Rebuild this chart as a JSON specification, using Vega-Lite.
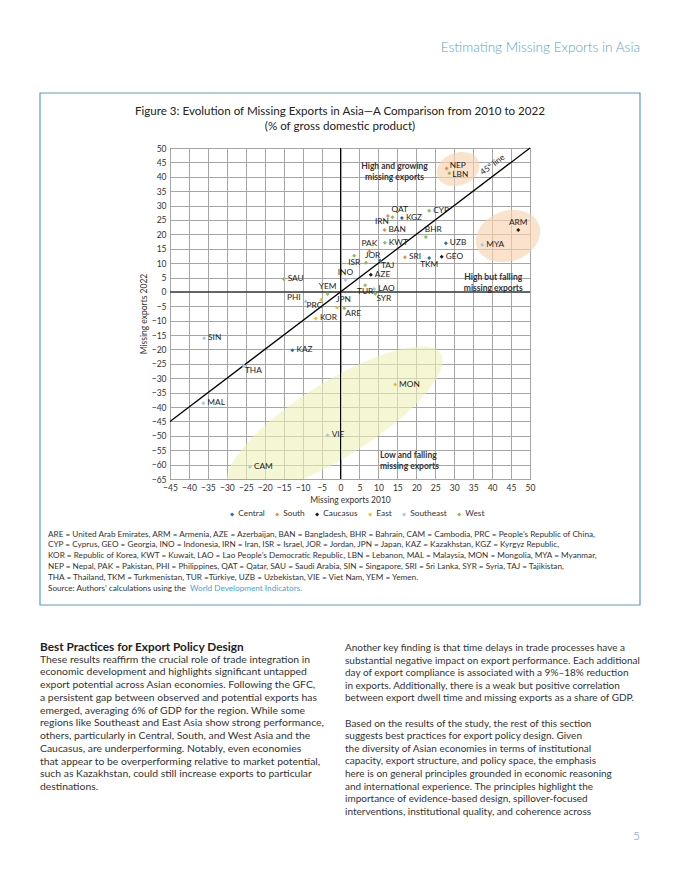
{
  "$schema": "https://vega.github.io/schema/vega-lite/v6.json",
  "width": 360,
  "height": 331,
  "autosize": {"type": "none"},
  "padding": {"left": 170, "top": 148, "right": 150, "bottom": 401},
  "background": "white",
  "config": {
    "font": "Lato",
    "view": {"stroke": "#000", "strokeWidth": 1},
    "axis": {
      "labelFont": "Lato",
      "labelFontSize": 8.5,
      "labelColor": "#333",
      "titleFont": "Lato",
      "titleFontSize": 8.5,
      "titleFontWeight": "normal",
      "titleColor": "#333",
      "gridColor": "#a6a6a6",
      "gridWidth": 1,
      "gridOpacity": 1,
      "ticks": false,
      "domain": false,
      "labelFlush": false,
      "labelOverlap": false
    }
  },
  "datasets": {
    "pts": [
      {"code": "SAU", "group": "West", "x": -15, "y": 4.5, "pos": "r"},
      {"code": "ISR", "group": "West", "x": 3.6, "y": 12.6, "pos": "b"},
      {"code": "INO", "group": "Southeast", "x": 1.3, "y": 4.1, "pos": "t"},
      {"code": "YEM", "group": "West", "x": -3.4, "y": -0.7, "pos": "t"},
      {"code": "PHI", "group": "Southeast", "x": -9.2, "y": -3.3, "pos": "l"},
      {"code": "PRC", "group": "East", "x": -5.1, "y": -2.7, "pos": "bl"},
      {"code": "KOR", "group": "East", "x": -6.5, "y": -9.2, "pos": "r"},
      {"code": "JPN", "group": "East", "x": -0.9, "y": -5.4, "pos": "tr"},
      {"code": "ARE", "group": "West", "x": 1.0, "y": -5.7, "pos": "br"},
      {"code": "TUR", "group": "West", "x": 6.5, "y": 2.3, "pos": "b"},
      {"code": "LAO", "group": "Southeast", "x": 8.9, "y": 1.0, "pos": "r"},
      {"code": "SYR", "group": "West", "x": 9.2, "y": -0.6, "pos": "br"},
      {"code": "AZE", "group": "Caucasus", "x": 8.0, "y": 6.0, "pos": "r"},
      {"code": "JOR", "group": "West", "x": 6.7, "y": 10.1, "pos": "tr"},
      {"code": "TAJ", "group": "Central", "x": 10.4, "y": 10.9, "pos": "br"},
      {"code": "PAK", "group": "South", "x": 7.6, "y": 14.1, "pos": "t"},
      {"code": "KWT", "group": "West", "x": 11.7, "y": 17.1, "pos": "r"},
      {"code": "BAN", "group": "South", "x": 11.6, "y": 21.5, "pos": "r"},
      {"code": "IRN", "group": "South", "x": 12.5, "y": 26.4, "pos": "bl"},
      {"code": "QAT", "group": "West", "x": 13.7, "y": 25.9, "pos": "tr"},
      {"code": "KGZ", "group": "Central", "x": 16.2, "y": 25.7, "pos": "r"},
      {"code": "CYP", "group": "West", "x": 23.4, "y": 28.2, "pos": "r"},
      {"code": "BHR", "group": "West", "x": 22.5, "y": 19.1, "pos": "tr"},
      {"code": "UZB", "group": "Central", "x": 27.8, "y": 16.9, "pos": "r"},
      {"code": "GEO", "group": "Caucasus", "x": 26.7, "y": 12.2, "pos": "r"},
      {"code": "TKM", "group": "Central", "x": 23.4, "y": 11.8, "pos": "b"},
      {"code": "SRI", "group": "South", "x": 17.0, "y": 12.0, "pos": "r"},
      {"code": "MYA", "group": "Southeast", "x": 37.4, "y": 16.4, "pos": "r"},
      {"code": "ARM", "group": "Caucasus", "x": 46.9, "y": 21.5, "pos": "t"},
      {"code": "NEP", "group": "South", "x": 28.0, "y": 42.9, "pos": "ru"},
      {"code": "LBN", "group": "West", "x": 28.7, "y": 41.2, "pos": "rd"},
      {"code": "SIN", "group": "Southeast", "x": -36.0, "y": -16.1, "pos": "r"},
      {"code": "KAZ", "group": "Central", "x": -12.7, "y": -20.3, "pos": "r"},
      {"code": "THA", "group": "Southeast", "x": -25.5, "y": -25.7, "pos": "br"},
      {"code": "MAL", "group": "Southeast", "x": -36.2, "y": -38.7, "pos": "r"},
      {"code": "MON", "group": "East", "x": 14.4, "y": -32.2, "pos": "r"},
      {"code": "VIE", "group": "Southeast", "x": -3.4, "y": -49.8, "pos": "r"},
      {"code": "CAM", "group": "Southeast", "x": -23.9, "y": -60.8, "pos": "r"}
    ],
    "zones": [
      {"zone": "growing", "x": 31.0, "y": 42.7},
      {"zone": "falling", "x": 44.2, "y": 19.4},
      {"zone": "low", "x": -1.5, "y": -44.5}
    ]
  },
  "layer": [
    {
      "data": {"name": "zones"},
      "transform": [{"filter": "datum.zone === 'low'"}],
      "mark": {"type": "point", "shape": "M -1 0 A 1 0.3 0 1 1 1 0 A 1 0.3 0 1 1 -1 0 Z", "size": 62500, "angle": 328, "filled": true, "color": "#eef2b8", "opacity": 0.6, "clip": true},
      "encoding": {
        "x": {"field": "x", "type": "quantitative"},
        "y": {"field": "y", "type": "quantitative"}
      }
    },
    {
      "data": {"name": "zones"},
      "transform": [{"filter": "datum.zone === 'growing'"}],
      "mark": {"type": "point", "shape": "M -1 0 A 1 0.74 0 1 1 1 0 A 1 0.74 0 1 1 -1 0 Z", "size": 1936, "angle": 340, "filled": true, "color": "#f8d2b0", "opacity": 0.65},
      "encoding": {
        "x": {"field": "x", "type": "quantitative"},
        "y": {"field": "y", "type": "quantitative"}
      }
    },
    {
      "data": {"name": "zones"},
      "transform": [{"filter": "datum.zone === 'falling'"}],
      "mark": {"type": "point", "shape": "M -1 0 A 1 0.76 0 1 1 1 0 A 1 0.76 0 1 1 -1 0 Z", "size": 4356, "angle": 340, "filled": true, "color": "#f8d2b0", "opacity": 0.65},
      "encoding": {
        "x": {"field": "x", "type": "quantitative"},
        "y": {"field": "y", "type": "quantitative"}
      }
    },
    {
      "data": {"values": [{"x": 0, "y": -65, "y2": 50}]},
      "mark": {"type": "rule", "color": "#000", "strokeWidth": 1},
      "encoding": {
        "x": {"field": "x", "type": "quantitative"},
        "y": {"field": "y", "type": "quantitative"},
        "y2": {"field": "y2"}
      }
    },
    {
      "data": {"values": [{"x": -45, "x2": 50, "y": 0}]},
      "mark": {"type": "rule", "color": "#000", "strokeWidth": 1},
      "encoding": {
        "x": {"field": "x", "type": "quantitative"},
        "x2": {"field": "x2"},
        "y": {"field": "y", "type": "quantitative"}
      }
    },
    {
      "data": {"values": [{"x": -45, "y": -45, "x2": 50, "y2": 50}]},
      "mark": {"type": "rule", "color": "#000", "strokeWidth": 1.3},
      "encoding": {
        "x": {"field": "x", "type": "quantitative"},
        "y": {"field": "y", "type": "quantitative"},
        "x2": {"field": "x2"},
        "y2": {"field": "y2"}
      }
    },
    {
      "data": {"name": "pts"},
      "mark": {"type": "point", "shape": "diamond", "filled": true, "size": 16, "opacity": 1},
      "encoding": {
        "x": {
          "field": "x", "type": "quantitative",
          "scale": {"domain": [-45, 50], "nice": false, "zero": false},
          "axis": {"title": "Missing exports 2010", "values": [-45,-40,-35,-30,-25,-20,-15,-10,-5,0,5,10,15,20,25,30,35,40,45,50], "tickCount": 40, "grid": true, "gridColor": "#a6a6a6", "gridWidth": 1, "labelOverlap": false, "labelBound": false, "labelPadding": 4, "titlePadding": 4}
        },
        "y": {
          "field": "y", "type": "quantitative",
          "scale": {"domain": [-65, 50], "nice": false, "zero": false},
          "axis": {"title": "Missing exports 2022", "values": [-65,-60,-55,-50,-45,-40,-35,-30,-25,-20,-15,-10,-5,0,5,10,15,20,25,30,35,40,45,50], "tickCount": 40, "grid": true, "gridColor": "#a6a6a6", "gridWidth": 1, "labelOverlap": false, "labelBound": false, "labelPadding": 4, "titlePadding": 3}
        },
        "color": {
          "field": "group", "type": "nominal",
          "scale": {"domain": ["Central", "South", "Caucasus", "East", "Southeast", "West"], "range": ["#2b6cb0", "#ef8a4f", "#1a1a1a", "#f2bf2a", "#9fcbe6", "#8cc152"]},
          "legend": {"orient": "none", "legendX": 58, "legendY": 362, "direction": "horizontal", "columns": 6, "title": null, "symbolType": "diamond", "symbolSize": 16, "labelFont": "Lato", "labelFontSize": 8.3, "labelColor": "#333", "labelOffset": 2, "columnPadding": 8, "padding": 0}
        }
      }
    },
    {
      "data": {"name": "pts"},
      "transform": [{"filter": "datum.pos === 'r'"}],
      "mark": {"type": "text", "align": "left", "baseline": "middle", "dx": 4, "fontSize": 8.3, "color": "#222"},
      "encoding": {"x": {"field": "x", "type": "quantitative"}, "y": {"field": "y", "type": "quantitative"}, "text": {"field": "code"}}
    },
    {
      "data": {"name": "pts"},
      "transform": [{"filter": "datum.pos === 'ru'"}],
      "mark": {"type": "text", "align": "left", "baseline": "middle", "dx": 3, "dy": -2.5, "fontSize": 8.3, "color": "#222"},
      "encoding": {"x": {"field": "x", "type": "quantitative"}, "y": {"field": "y", "type": "quantitative"}, "text": {"field": "code"}}
    },
    {
      "data": {"name": "pts"},
      "transform": [{"filter": "datum.pos === 'rd'"}],
      "mark": {"type": "text", "align": "left", "baseline": "middle", "dx": 3, "dy": 1.5, "fontSize": 8.3, "color": "#222"},
      "encoding": {"x": {"field": "x", "type": "quantitative"}, "y": {"field": "y", "type": "quantitative"}, "text": {"field": "code"}}
    },
    {
      "data": {"name": "pts"},
      "transform": [{"filter": "datum.pos === 'l'"}],
      "mark": {"type": "text", "align": "right", "baseline": "middle", "dx": -5, "dy": -3, "fontSize": 8.3, "color": "#222"},
      "encoding": {"x": {"field": "x", "type": "quantitative"}, "y": {"field": "y", "type": "quantitative"}, "text": {"field": "code"}}
    },
    {
      "data": {"name": "pts"},
      "transform": [{"filter": "datum.pos === 't'"}],
      "mark": {"type": "text", "align": "center", "baseline": "middle", "dy": -7, "fontSize": 8.3, "color": "#222"},
      "encoding": {"x": {"field": "x", "type": "quantitative"}, "y": {"field": "y", "type": "quantitative"}, "text": {"field": "code"}}
    },
    {
      "data": {"name": "pts"},
      "transform": [{"filter": "datum.pos === 'b'"}],
      "mark": {"type": "text", "align": "center", "baseline": "middle", "dy": 7, "fontSize": 8.3, "color": "#222"},
      "encoding": {"x": {"field": "x", "type": "quantitative"}, "y": {"field": "y", "type": "quantitative"}, "text": {"field": "code"}}
    },
    {
      "data": {"name": "pts"},
      "transform": [{"filter": "datum.pos === 'tr'"}],
      "mark": {"type": "text", "align": "left", "baseline": "middle", "dx": -1, "dy": -7, "fontSize": 8.3, "color": "#222"},
      "encoding": {"x": {"field": "x", "type": "quantitative"}, "y": {"field": "y", "type": "quantitative"}, "text": {"field": "code"}}
    },
    {
      "data": {"name": "pts"},
      "transform": [{"filter": "datum.pos === 'br'"}],
      "mark": {"type": "text", "align": "left", "baseline": "middle", "dx": 1, "dy": 5.5, "fontSize": 8.3, "color": "#222"},
      "encoding": {"x": {"field": "x", "type": "quantitative"}, "y": {"field": "y", "type": "quantitative"}, "text": {"field": "code"}}
    },
    {
      "data": {"name": "pts"},
      "transform": [{"filter": "datum.pos === 'bl'"}],
      "mark": {"type": "text", "align": "right", "baseline": "middle", "dx": 1, "dy": 6, "fontSize": 8.3, "color": "#222"},
      "encoding": {"x": {"field": "x", "type": "quantitative"}, "y": {"field": "y", "type": "quantitative"}, "text": {"field": "code"}}
    },
    {
      "data": {"values": [
        {"label": "High and growing\nmissing exports", "x": 14.25, "y": 43.9},
        {"label": "High but falling\nmissing exports", "x": 40.3, "y": 5.35}
      ]},
      "mark": {"type": "text", "align": "center", "baseline": "middle", "lineBreak": "\n", "lineHeight": 11, "fontSize": 8.5, "fontWeight": "bold", "color": "#333"},
      "encoding": {"x": {"field": "x", "type": "quantitative"}, "y": {"field": "y", "type": "quantitative"}, "text": {"field": "label"}}
    },
    {
      "data": {"values": [
        {"label": "Low and falling\nmissing exports", "x": 10.4, "y": -56.6}
      ]},
      "mark": {"type": "text", "align": "left", "baseline": "middle", "lineBreak": "\n", "lineHeight": 11, "fontSize": 8.5, "fontWeight": "bold", "color": "#333"},
      "encoding": {"x": {"field": "x", "type": "quantitative"}, "y": {"field": "y", "type": "quantitative"}, "text": {"field": "label"}}
    },
    {
      "data": {"values": [{"label": "45\u00b0 line", "x": 40.2, "y": 44.0}]},
      "mark": {"type": "text", "align": "center", "baseline": "middle", "angle": 323, "fontSize": 8.3, "color": "#222"},
      "encoding": {"x": {"field": "x", "type": "quantitative"}, "y": {"field": "y", "type": "quantitative"}, "text": {"field": "label"}}
    },
    {
      "data": {"values": [{}]},
      "mark": {"type": "rect", "fill": null, "fillOpacity": 0, "stroke": "#5c9fb8", "strokeWidth": 1.2},
      "encoding": {"x": {"value": -130}, "x2": {"value": 470}, "y": {"value": -55}, "y2": {"value": 457}}
    },
    {
      "data": {"values": [{}]},
      "mark": {"type": "text", "align": "center", "baseline": "middle", "fontSize": 11.6, "color": "#222"},
      "encoding": {"x": {"value": 170}, "y": {"value": -36}, "text": {"value": "Figure 3: Evolution of Missing Exports in Asia\u2014A Comparison from 2010 to 2022"}}
    },
    {
      "data": {"values": [{}]},
      "mark": {"type": "text", "align": "center", "baseline": "middle", "fontSize": 11.6, "color": "#222"},
      "encoding": {"x": {"value": 170}, "y": {"value": -21}, "text": {"value": "(% of gross domestic product)"}}
    },
    {
      "data": {"values": [{}]},
      "mark": {"type": "text", "align": "right", "baseline": "middle", "fontSize": 13.6, "fontWeight": 300, "color": "#5aa0d0"},
      "encoding": {"x": {"value": 470}, "y": {"value": -100}, "text": {"value": "Estimating Missing Exports in Asia"}}
    },
    {
      "data": {"values": [{}]},
      "mark": {"type": "text", "align": "left", "baseline": "alphabetic", "fontSize": 8.2, "lineHeight": 10.9, "color": "#333"},
      "encoding": {"x": {"value": -122}, "y": {"value": 388.5}, "text": {"value": [
        "ARE = United Arab Emirates, ARM = Armenia, AZE = Azerbaijan, BAN = Bangladesh, BHR = Bahrain, CAM = Cambodia, PRC = People\u2019s Republic of China,",
        "CYP = Cyprus, GEO = Georgia, INO = Indonesia, IRN = Iran, ISR = Israel, JOR  = Jordan, JPN = Japan, KAZ = Kazakhstan, KGZ = Kyrgyz Republic,",
        "KOR = Republic of Korea, KWT = Kuwait, LAO = Lao People\u2019s Democratic Republic, LBN = Lebanon, MAL = Malaysia, MON = Mongolia, MYA = Myanmar,",
        "NEP = Nepal, PAK = Pakistan, PHI = Philippines, QAT = Qatar, SAU = Saudi Arabia, SIN = Singapore, SRI = Sri Lanka, SYR = Syria, TAJ = Tajikistan,",
        "THA = Thailand, TKM = Turkmenistan, TUR =T\u00fcrkiye, UZB = Uzbekistan, VIE = Viet Nam, YEM = Yemen.",
        "Source: Authors\u2019 calculations using the"
      ]}}
    },
    {
      "data": {"values": [{}]},
      "mark": {"type": "text", "align": "left", "baseline": "alphabetic", "fontSize": 8.2, "color": "#4a9fd4"},
      "encoding": {"x": {"value": 20}, "y": {"value": 443}, "text": {"value": "World Development Indicators."}}
    },
    {
      "data": {"values": [{}]},
      "mark": {"type": "text", "align": "left", "baseline": "alphabetic", "fontSize": 11.8, "fontWeight": "bold", "color": "#222"},
      "encoding": {"x": {"value": -130}, "y": {"value": 502.5}, "text": {"value": "Best Practices for Export Policy Design"}}
    },
    {
      "data": {"values": [{}]},
      "mark": {"type": "text", "align": "left", "baseline": "alphabetic", "fontSize": 10.4, "lineHeight": 12.75, "color": "#333"},
      "encoding": {"x": {"value": -130}, "y": {"value": 514.5}, "text": {"value": [
        "These results reaffirm the crucial role of trade integration in",
        "economic development and highlights significant untapped",
        "export potential across Asian economies. Following the GFC,",
        "a persistent gap between observed and potential exports has",
        "emerged, averaging 6% of GDP for the region. While some",
        "regions like Southeast and East Asia show strong performance,",
        "others, particularly in Central, South, and West Asia and the",
        "Caucasus, are underperforming. Notably, even economies",
        "that appear to be overperforming relative to market potential,",
        "such as Kazakhstan, could still increase exports to particular",
        "destinations."
      ]}}
    },
    {
      "data": {"values": [{}]},
      "mark": {"type": "text", "align": "left", "baseline": "alphabetic", "fontSize": 10, "lineHeight": 12.5, "color": "#333"},
      "encoding": {"x": {"value": 175}, "y": {"value": 503}, "text": {"value": [
        "Another key finding is that time delays in trade processes have a",
        "substantial negative impact on export performance. Each additional",
        "day of export compliance is associated with a 9%\u201318% reduction",
        "in exports. Additionally, there is a weak but positive correlation",
        "between export dwell time and missing exports as a share of GDP."
      ]}}
    },
    {
      "data": {"values": [{}]},
      "mark": {"type": "text", "align": "left", "baseline": "alphabetic", "fontSize": 10, "lineHeight": 12.6, "color": "#333"},
      "encoding": {"x": {"value": 175}, "y": {"value": 578.5}, "text": {"value": [
        "Based on the results of the study, the rest of this section",
        "suggests best practices for export policy design. Given",
        "the diversity of Asian economies in terms of institutional",
        "capacity, export structure, and policy space, the emphasis",
        "here is on general principles grounded in economic reasoning",
        "and international experience. The principles highlight the",
        "importance of evidence-based design, spillover-focused",
        "interventions, institutional quality, and coherence across"
      ]}}
    },
    {
      "data": {"values": [{}]},
      "mark": {"type": "text", "align": "right", "baseline": "middle", "fontSize": 12, "fontWeight": 300, "color": "#5aa0d0"},
      "encoding": {"x": {"value": 470}, "y": {"value": 688}, "text": {"value": "5"}}
    }
  ]
}
